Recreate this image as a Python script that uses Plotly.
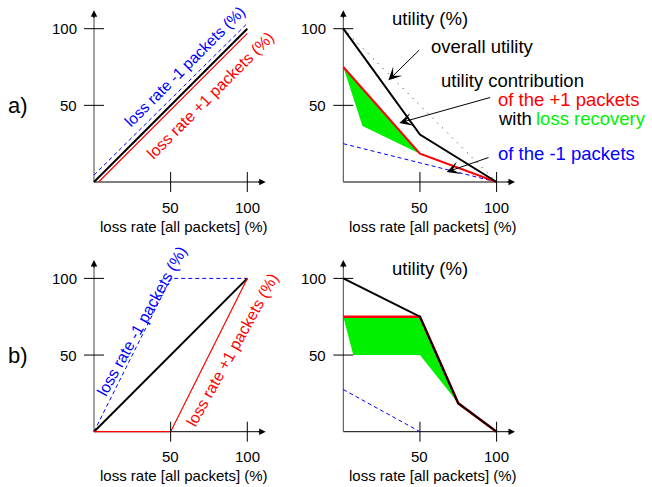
import plotly.graph_objects as go

W, H = 652, 487
PX = 1.533  # pixels per percent unit (same on both axes)
FONT = "Liberation Sans, Arial, Helvetica, sans-serif"
BLACK, RED, BLUE, GREEN, GRAY = "#000000", "#ff0000", "#0000ff", "#00f000", "#444444"

# ---------------- data ----------------
tick_values = [50, 100]
axis_end = 112

# a) left: loss rate per packet class vs overall loss rate
a_loss_all_x = [0, 100]
a_loss_all = [0, 100]
a_loss_minus1_x = [0, 100]
a_loss_minus1 = [4.5, 103.5]
a_loss_plus1_x = [3, 100]
a_loss_plus1 = [0, 97]

# a) right: utility
a_ref_x = [0, 100]
a_ref = [100, 0]
a_util_x = [0, 46, 50, 100]
a_util_overall = [100, 37, 31, 0]
a_util_plus1_x = [0, 50, 100]
a_util_plus1 = [75, 18.5, 0]
a_recovery_x = [0, 12.5, 50]
a_recovery = [75, 36.5, 18.5]
a_util_minus1_x = [0, 100]
a_util_minus1 = [25, 0]

# b) left
b_loss_all_x = [0, 100]
b_loss_all = [0, 100]
b_loss_minus1_x = [0, 50, 100]
b_loss_minus1 = [0, 100, 100]
b_loss_plus1_x = [0, 50, 100]
b_loss_plus1 = [0, 0, 100]

# b) right
b_util_x = [0, 50, 75, 100]
b_util_overall = [100, 75, 18.5, 0]
b_util_plus1_x = [0, 50, 75, 100]
b_util_plus1 = [75, 75, 18.5, 0]
b_recovery_x = [0, 6.5, 50, 75]
b_recovery = [75, 50, 50, 18.5]
b_util_minus1_x = [0, 50]
b_util_minus1 = [27.5, 0]

# ---------------- layout of the four panels ----------------
panels = [
    ("x", "y", (94.0, 182.0), (0, 300, 0, 243.5)),
    ("x2", "y2", (343.3, 182.0), (300, 652, 0, 243.5)),
    ("x3", "y3", (94.0, 431.7), (0, 300, 243.5, 487)),
    ("x4", "y4", (343.3, 431.7), (300, 652, 243.5, 487)),
]

fig = go.Figure()
layout_axes = {}
for xr, yr, (ox, oy), (x0, x1, y0, y1) in panels:
    xs = xr[1:]
    ys = yr[1:]
    layout_axes["xaxis" + xs] = dict(domain=[x0 / W, x1 / W],
                                     range=[(x0 - ox) / PX, (x1 - ox) / PX],
                                     visible=False, anchor=yr, fixedrange=True)
    layout_axes["yaxis" + ys] = dict(domain=[1 - y1 / H, 1 - y0 / H],
                                     range=[(oy - y1) / PX, (oy - y0) / PX],
                                     visible=False, anchor=xr, fixedrange=True)


def line(xr, yr, x, y, color, width, dash="solid", fill=None, fillcolor=None):
    fig.add_trace(go.Scatter(x=x, y=y, xaxis=xr, yaxis=yr, mode="lines",
                             line=dict(color=color, width=width, dash=dash),
                             fill=fill, fillcolor=fillcolor, hoverinfo="skip",
                             showlegend=False))


def draw_axes(xr, yr):
    line(xr, yr, [0, axis_end - 2], [0, 0], BLACK, 1)
    line(xr, yr, [0, 0], [0, axis_end - 2], GRAY, 1)
    for tx, ty, bx, by in [(axis_end, 0, axis_end - 6, 0), (0, axis_end, 0, axis_end - 6)]:
        fig.add_annotation(x=tx, y=ty, ax=bx, ay=by, xref=xr, yref=yr, axref=xr, ayref=yr,
                           text="", showarrow=True, arrowhead=2, arrowsize=1.3,
                           arrowwidth=1, arrowcolor=BLACK, standoff=0)
    tl = 6.5
    for v in tick_values:
        fig.add_shape(type="line", x0=v, x1=v, y0=-tl, y1=tl, xref=xr, yref=yr,
                      line=dict(color=BLACK, width=1))
        fig.add_shape(type="line", x0=-tl, x1=tl, y0=v, y1=v, xref=xr, yref=yr,
                      line=dict(color=BLACK, width=1))
        fig.add_annotation(x=v, y=0, xref=xr, yref=yr, text=str(v), showarrow=False,
                           yshift=-25, font=dict(family=FONT, size=15, color=BLACK))
        fig.add_annotation(x=0, y=v, xref=xr, yref=yr, text=str(v), showarrow=False,
                           xanchor="right", xshift=-15,
                           font=dict(family=FONT, size=15, color=BLACK))
    fig.add_annotation(x=90 / PX, y=0, xref=xr, yref=yr, text="loss rate [all packets] (%)",
                       showarrow=False, yshift=-44,
                       font=dict(family=FONT, size=15, color=BLACK))


def text(px, py, s, size, color, anchor="left", angle=0):
    fig.add_annotation(x=px / W, y=1 - py / H, xref="paper", yref="paper", text=s,
                       showarrow=False, xanchor=anchor, yanchor="middle", textangle=angle,
                       font=dict(family=FONT, size=size, color=color))


def pointer(xr, yr, tip, tail):
    fig.add_annotation(x=tip[0], y=tip[1], ax=tail[0], ay=tail[1], xref=xr, yref=yr,
                       axref=xr, ayref=yr, text="", showarrow=True, arrowhead=3,
                       arrowsize=2.2, arrowwidth=1, arrowcolor=BLACK, standoff=0)


# ---------------- a) left ----------------
draw_axes("x", "y")
line("x", "y", a_loss_minus1_x, a_loss_minus1, BLUE, 1, dash="4px,3px")
line("x", "y", a_loss_plus1_x, a_loss_plus1, RED, 1.2)
line("x", "y", a_loss_all_x, a_loss_all, BLACK, 2)

# ---------------- a) right ----------------
draw_axes("x2", "y2")
poly_x = a_util_plus1_x[:2] + a_recovery_x[::-1]
poly_y = a_util_plus1[:2] + a_recovery[::-1]
line("x2", "y2", poly_x, poly_y, "rgba(0,0,0,0)", 0, fill="toself", fillcolor=GREEN)
line("x2", "y2", a_ref_x, a_ref, "#222222", 1, dash="1px,6px")
line("x2", "y2", a_util_minus1_x, a_util_minus1, BLUE, 1, dash="4px,3px")
line("x2", "y2", a_util_plus1_x, a_util_plus1, RED, 2)
line("x2", "y2", a_util_x, a_util_overall, BLACK, 2)
pointer("x2", "y2", (29.4, 66.3), (50.5, 87.0))
pointer("x2", "y2", (36.5, 38.5), (96.8, 55.4))
pointer("x2", "y2", (67.4, 6.5), (95.7, 16.3))

# ---------------- b) left ----------------
draw_axes("x3", "y3")
line("x3", "y3", b_loss_minus1_x, b_loss_minus1, BLUE, 1, dash="4px,3px")
line("x3", "y3", b_loss_all_x, b_loss_all, BLACK, 2)
line("x3", "y3", b_loss_plus1_x, b_loss_plus1, RED, 1.2)

# ---------------- b) right ----------------
draw_axes("x4", "y4")
poly_x = b_util_plus1_x[:3] + b_recovery_x[::-1]
poly_y = b_util_plus1[:3] + b_recovery[::-1]
line("x4", "y4", poly_x, poly_y, "rgba(0,0,0,0)", 0, fill="toself", fillcolor=GREEN)
line("x4", "y4", b_util_minus1_x, b_util_minus1, BLUE, 1, dash="4px,3px")
line("x4", "y4", b_util_plus1_x, b_util_plus1, RED, 2.5)
line("x4", "y4", b_util_x, b_util_overall, BLACK, 2)

# ---------------- texts ----------------
text(18.3, 105, "a)", 22, BLACK, "center")
text(18.3, 355, "b)", 22, BLACK, "center")
text(184.5, 66, "loss rate -1 packets (%)", 15.5, BLUE, "center", -45)
text(210, 95, "loss rate +1 packets (%)", 16, RED, "center", -45)
text(141.7, 321.5, "loss rate -1 packets (%)", 16, BLUE, "center", -61)
text(231.7, 350, "loss rate +1 packets (%)", 16, RED, "center", -61)
text(430, 18.3, "utility (%)", 18.5, BLACK, "center")
text(430, 268.3, "utility (%)", 18.5, BLACK, "center")
text(429, 46.7, "overall utility", 18.5, BLACK)
text(439, 81, "utility contribution", 18.5, BLACK)
text(496, 100, "of the +1 packets", 18.5, RED)
text(496, 118.3, "with", 18.5, BLACK)
text(534, 118.3, "loss recovery", 18.5, GREEN)
text(496, 153.3, "of the -1 packets", 18.5, BLUE)

fig.update_layout(width=W, height=H, margin=dict(l=0, r=0, t=0, b=0),
                  paper_bgcolor="white", plot_bgcolor="white", showlegend=False,
                  **layout_axes)
fig.write_html("out.html")
